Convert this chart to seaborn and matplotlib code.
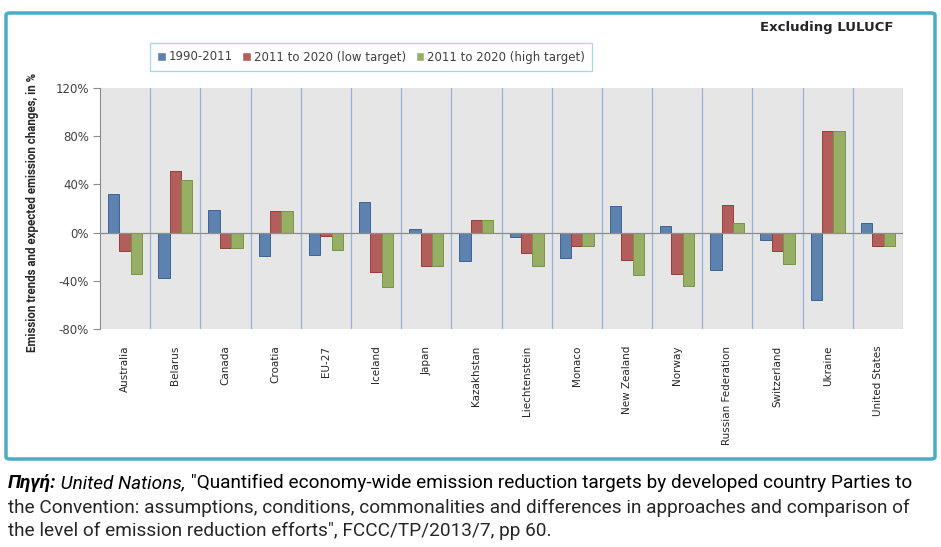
import numpy as np
import pandas as pd
import matplotlib
matplotlib.use('Agg')
import matplotlib.pyplot as plt
import seaborn as sns
from matplotlib.patches import FancyBboxPatch
from matplotlib.ticker import FuncFormatter

# data (%)
countries = ['Australia', 'Belarus', 'Canada', 'Croatia', 'EU-27', 'Iceland', 'Japan',
             'Kazakhstan', 'Liechtenstein', 'Monaco', 'New Zealand', 'Norway',
             'Russian Federation', 'Switzerland', 'Ukraine', 'United States']
hist_1990_2011 = [32, -37.5, 18.6, -19.7, -18.6, 25.2, 3.3, -23.8, -3.8, -21.4, 21.9, 5.8, -31, -6, -56, 7.7]
low_target = [-15.6, 51, -12.6, 18, -2.5, -32.9, -27.7, 10.4, -17, -11.5, -22.5, -34.2, 22.7, -15, 84.6, -11]
high_target = [-34, 43.6, -12.6, 18, -14.5, -45.2, -27.7, 10.4, -27.7, -11.5, -35, -44.1, 7.7, -25.8, 84.6, -11]
series = ['1990-2011', '2011 to 2020 (low target)', '2011 to 2020 (high target)']
colors = ['#4f81bd', '#c0504d', '#9bbb59']
edges = ['#3a6496', '#9a3c3a', '#7a9446']

df = pd.DataFrame({
    'country': countries * 3,
    'value': hist_1990_2011 + low_target + high_target,
    'series': [series[0]] * 16 + [series[1]] * 16 + [series[2]] * 16,
})

sns.set_style('white')
plt.rcParams['font.family'] = ['DejaVu Sans']

fig = plt.figure(figsize=(9.41, 5.47), dpi=100)
ax = fig.add_axes([100 / 941, 1 - 329 / 547, 803 / 941, 241 / 547])

sns.barplot(data=df, x='country', y='value', hue='series', hue_order=series,
            palette=colors, width=0.68, gap=0, ax=ax, zorder=3)
for cont, ec in zip(ax.containers, edges):
    for p in cont:
        p.set_edgecolor(ec)
        p.set_linewidth(0.7)

ax.set_facecolor('#e6e6e6')
ax.set_xlim(-0.5, 15.5)
ax.set_ylim(-80, 120)
ax.set_yticks(np.arange(-80, 121, 40))
ax.yaxis.set_major_formatter(FuncFormatter(lambda v, p: f'{int(v)}%'))
for xb in np.arange(0.5, 16, 1):
    ax.axvline(xb, color='#95b3d7', lw=0.9, zorder=1)
ax.axhline(0, color='#8c8c8c', lw=0.9, zorder=4)

for s in ['top', 'right', 'bottom']:
    ax.spines[s].set_visible(False)
ax.spines['left'].set_color('#8c8c8c')
ax.spines['left'].set_linewidth(0.8)
ax.tick_params(axis='y', length=5, width=0.8, color='#8c8c8c', labelsize=8.5,
               labelcolor='#404040', pad=3, left=True)
ax.tick_params(axis='x', length=0, pad=12, labelsize=7.5, labelcolor='#262626')
plt.setp(ax.get_xticklabels(), rotation=90, va='top', ha='center')
ax.set_xlabel('')
ax.set_ylabel('')

fig.text(33 / 941, 1 - 212 / 547, 'Emission trends and expected emission changes, in %',
         rotation=90, ha='center', va='center', fontsize=8.3, fontweight='bold',
         family=['Roboto', 'DejaVu Sans'], color='#262626')

leg = ax.legend(loc='center', bbox_to_anchor=(371 / 941, 1 - 57 / 547),
                bbox_transform=fig.transFigure, ncol=3, fontsize=8.5,
                frameon=True, fancybox=False, handlelength=0.75, handleheight=0.75,
                handletextpad=0.25, columnspacing=0.8, borderpad=0.6)
leg.get_frame().set_edgecolor('#92cddc')
leg.get_frame().set_linewidth(0.9)
for t in leg.get_texts():
    t.set_color('#404040')

fig.text(893 / 941, 1 - 28 / 547, 'Excluding LULUCF', ha='right', va='center',
         fontsize=9.5, fontweight='bold', color='#262626')

# outer frame
fig.patches.append(FancyBboxPatch((6 / 941, 1 - 459 / 547), 929 / 941, 446 / 547,
                                  boxstyle='round,pad=0,rounding_size=0.004',
                                  transform=fig.transFigure, fill=False,
                                  edgecolor='#4bacc6', lw=2.5))

# caption with mixed styles
cap_font = ['Roboto', 'DejaVu Sans']
fig.canvas.draw()
r = fig.canvas.get_renderer()
x0 = 8 / 941
line2 = fig.text(x0, 1 - 508 / 547,
                 'the Convention: assumptions, conditions, commonalities and differences in approaches and comparison of',
                 ha='left', va='center', fontsize=12, family=cap_font)
w = line2.get_window_extent(renderer=r).width
cap_size = 12 * 898 / w
line2.set_fontsize(cap_size)
fig.text(x0, 1 - 531 / 547, 'the level of emission reduction efforts", FCCC/TP/2013/7, pp 60.',
         ha='left', va='center', fontsize=cap_size, family=cap_font)
parts = [('Πηγή:', 'italic', 'bold'), (' United Nations,', 'italic', 'normal'),
         (' "Quantified economy-wide emission reduction targets by developed country Parties to', 'normal', 'normal')]
x = x0
for txt, st, wt in parts:
    t = fig.text(x, 1 - 483 / 547, txt, ha='left', va='center', fontsize=cap_size,
                 family=cap_font, style=st, weight=wt, color='black')
    x += t.get_window_extent(renderer=r).width / fig.bbox.width

fig.savefig('out.png', dpi=100)
